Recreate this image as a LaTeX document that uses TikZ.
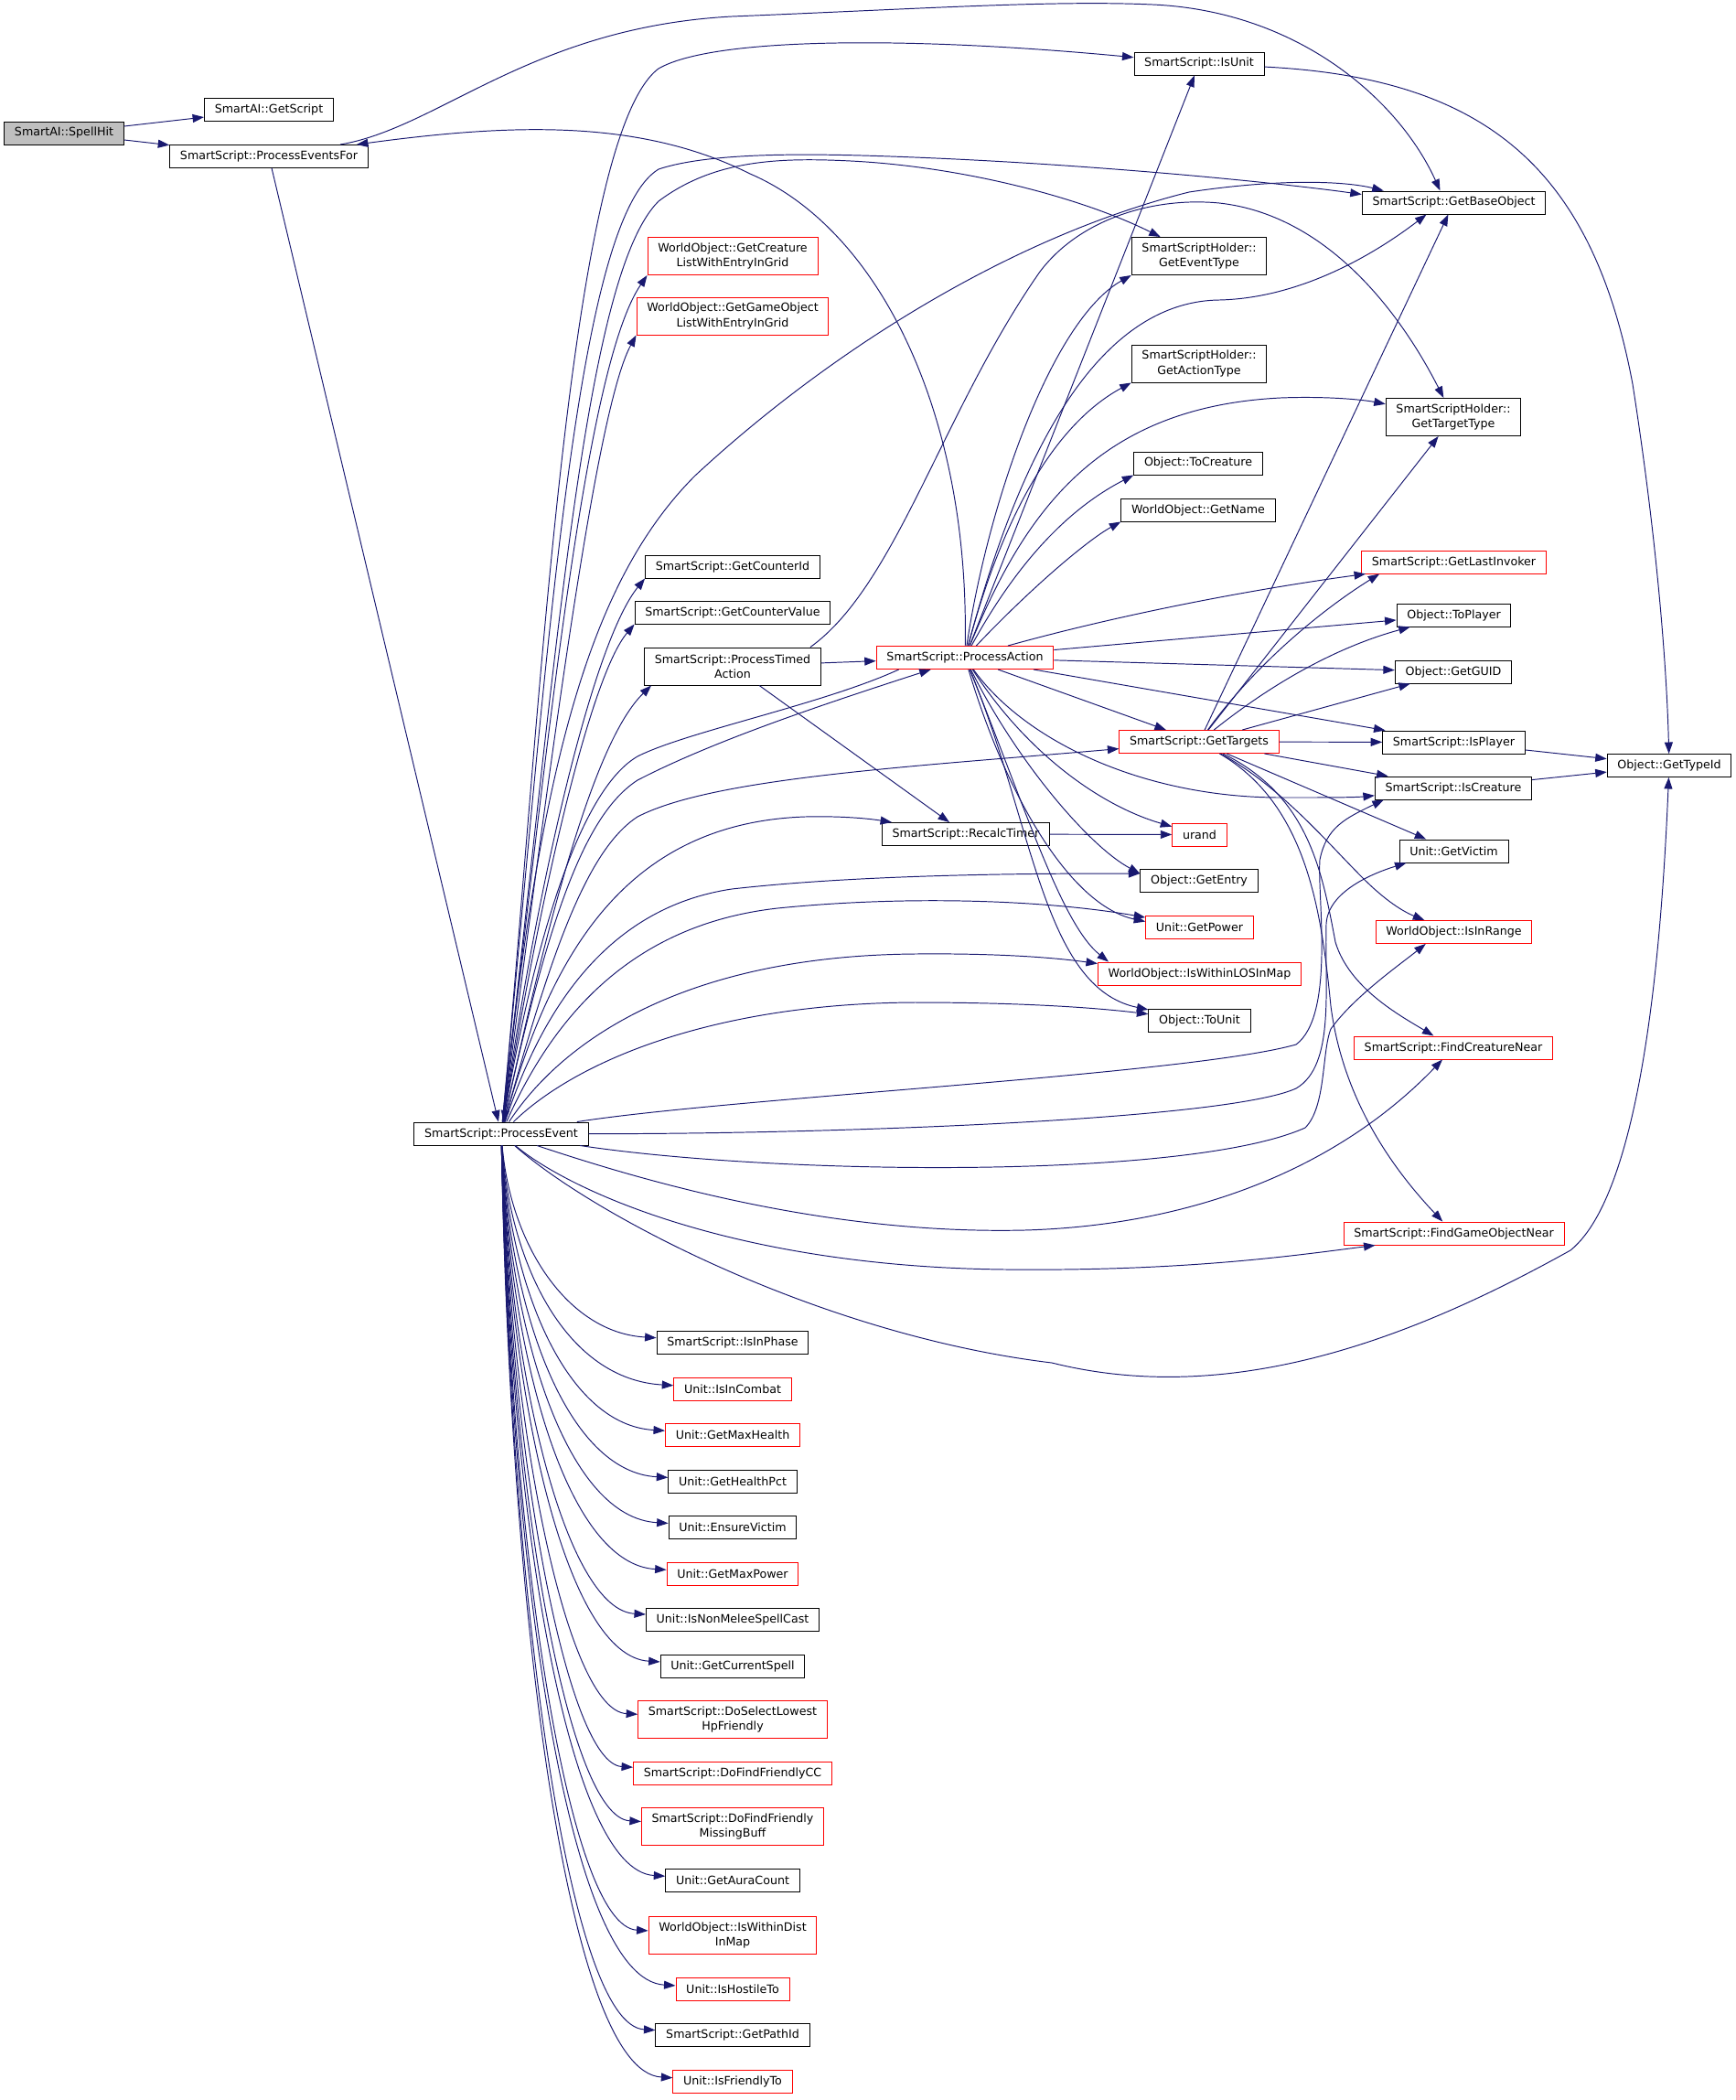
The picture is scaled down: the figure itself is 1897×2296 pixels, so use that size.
\documentclass[tikz,border=0pt]{standalone}
\usepackage{fontspec}
\setmainfont{DejaVu Sans}
\usepackage{tikz}
\usetikzlibrary{arrows.meta,calc}
\definecolor{myedge}{RGB}{25,25,112}
\definecolor{myred}{RGB}{255,0,0}
\definecolor{mygray}{RGB}{191,191,191}

\begin{document}
\begin{tikzpicture}[
  x=0.02cm, y=-0.02cm,
  box/.style={
    rectangle, draw=black, fill=white, line width=0.55pt,
    inner xsep=0.225cm, inner ysep=0.12cm, minimum height=0.5cm,
    font=\fontsize{7.2pt}{9.3pt}\selectfont, align=center},
  redbox/.style={box, draw=myred},
  rootbox/.style={box, fill=mygray},
  tall/.style={minimum height=0.82cm},
  arr/.style={-{Triangle[length=0.25cm,width=0.18cm]}, line width=0.55pt, color=myedge}
]
  \useasboundingbox (0,0) rectangle (1897,2296);

  \node[rootbox](spellhit) at (70,145.5) {SmartAI::SpellHit};
  \node[box](getscript) at (294,120) {SmartAI::GetScript};
  \node[box](eventsfor) at (294,171) {SmartScript::ProcessEventsFor};
  \node[box](processevent) at (548,1239.5) {SmartScript::ProcessEvent};
  \node[box](isunit) at (1311,69.5) {SmartScript::IsUnit};
  \node[box](baseobj) at (1589.5,221.5) {SmartScript::GetBaseObject};
  \node[redbox, tall](crlist) at (801,280) {WorldObject::GetCreature\\ListWithEntryInGrid};
  \node[redbox, tall](golist) at (801,345.5) {WorldObject::GetGameObject\\ListWithEntryInGrid};
  \node[box, tall](eventtype) at (1311,280) {SmartScriptHolder::\\GetEventType};
  \node[box, tall](actiontype) at (1311,397.5) {SmartScriptHolder::\\GetActionType};
  \node[box, tall](targettype) at (1589,456) {SmartScriptHolder::\\GetTargetType};
  \node[box](tocreature) at (1310,506.5) {Object::ToCreature};
  \node[box](getname) at (1310,557.5) {WorldObject::GetName};
  \node[box](counterid) at (801,619.5) {SmartScript::GetCounterId};
  \node[redbox](lastinvoker) at (1589.5,614.5) {SmartScript::GetLastInvoker};
  \node[box](countervalue) at (801,669.5) {SmartScript::GetCounterValue};
  \node[box](toplayer) at (1589.5,672.5) {Object::ToPlayer};
  \node[box, tall](timedaction) at (801,728.5) {SmartScript::ProcessTimed\\Action};
  \node[redbox](processaction) at (1055,719) {SmartScript::ProcessAction};
  \node[box](getguid) at (1589,734.5) {Object::GetGUID};
  \node[redbox](gettargets) at (1311,811) {SmartScript::GetTargets};
  \node[box](isplayer) at (1589.5,811.5) {SmartScript::IsPlayer};
  \node[box](gettypeid) at (1825,837) {Object::GetTypeId};
  \node[box](iscreature) at (1589,861.5) {SmartScript::IsCreature};
  \node[box](recalctimer) at (1056,912) {SmartScript::RecalcTimer};
  \node[redbox](urand) at (1311.5,912.5) {urand};
  \node[box](getvictim) at (1589.5,930.5) {Unit::GetVictim};
  \node[box](getentry) at (1311,963) {Object::GetEntry};
  \node[redbox](getpower) at (1311.5,1013.5) {Unit::GetPower};
  \node[redbox](isinrange) at (1589.5,1019) {WorldObject::IsInRange};
  \node[redbox](losinmap) at (1311.5,1064.5) {WorldObject::IsWithinLOSInMap};
  \node[box](tounit) at (1311.5,1115.5) {Object::ToUnit};
  \node[redbox](findcreature) at (1589,1145.5) {SmartScript::FindCreatureNear};
  \node[redbox](findgo) at (1589.5,1348.5) {SmartScript::FindGameObjectNear};
  \node[box](inphase) at (801,1467.5) {SmartScript::IsInPhase};
  \node[redbox](incombat) at (801,1518.5) {Unit::IsInCombat};
  \node[redbox](maxhealth) at (801,1568.5) {Unit::GetMaxHealth};
  \node[box](healthpct) at (801,1619.5) {Unit::GetHealthPct};
  \node[box](ensurevictim) at (801,1669.5) {Unit::EnsureVictim};
  \node[redbox](maxpower) at (801,1720.5) {Unit::GetMaxPower};
  \node[box](nonmelee) at (801,1770.5) {Unit::IsNonMeleeSpellCast};
  \node[box](curspell) at (801,1821.5) {Unit::GetCurrentSpell};
  \node[redbox, tall](lowesthp) at (801,1880) {SmartScript::DoSelectLowest\\HpFriendly};
  \node[redbox](friendlycc) at (801,1938.5) {SmartScript::DoFindFriendlyCC};
  \node[redbox, tall](missingbuff) at (801,1997) {SmartScript::DoFindFriendly\\MissingBuff};
  \node[box](auracount) at (801,2055.5) {Unit::GetAuraCount};
  \node[redbox, tall](withindist) at (801,2116) {WorldObject::IsWithinDist\\InMap};
  \node[redbox](hostile) at (801,2174.5) {Unit::IsHostileTo};
  \node[box](pathid) at (801,2224.5) {SmartScript::GetPathId};
  \node[redbox](friendlyto) at (801,2275.5) {Unit::IsFriendlyTo};

  \draw[arr](spellhit)--(getscript);
  \draw[arr](spellhit)--(eventsfor);
  \draw[arr](eventsfor)--(processevent);
  \draw[arr](eventsfor) .. controls (480,140) and (580,30) .. (800,18)
    .. controls (1000,10) and (1150,0) .. (1260,5)
    .. controls (1420,12) and (1530,110) .. ($(baseobj.north)+(-15,0)$);
  \draw[arr](processaction) .. controls (1060,450) and (960,250) .. (820,190)
    .. controls (700,130) and (560,135) .. (eventsfor);

  \draw[arr](processevent) .. controls (590,800) and (620,150) .. (720,75)
    .. controls (780,40) and (1000,40) .. (isunit);
  \draw[arr](processevent) .. controls (600,700) and (630,240) .. (720,185)
    .. controls (780,165) and (900,168) .. (1000,172)
    .. controls (1200,180) and (1400,200) .. ($(baseobj.north west)+(0,4)$);
  \draw[arr](processevent) .. controls (590,850) and (640,640) .. (760,520)
    .. controls (900,390) and (1100,260) .. (1300,210)
    .. controls (1400,195) and (1470,198) .. ($(baseobj.north west)+(24,0)$);
  \draw[arr](processevent) .. controls (610,700) and (640,300) .. (720,220)
    .. controls (780,175) and (850,172) .. (930,176)
    .. controls (1050,182) and (1180,215) .. (eventtype);
  \draw[arr](processevent) .. controls (600,800) and (640,400) .. (crlist.south west);
  \draw[arr](processevent) .. controls (600,850) and (650,450) .. (golist.south west);
  \draw[arr](processevent) .. controls (590,950) and (650,700) .. (counterid.south west);
  \draw[arr](processevent) .. controls (590,980) and (645,740) .. (countervalue.south west);
  \draw[arr](processevent) .. controls (600,1000) and (650,810) .. ($(timedaction.south west)+(8,0)$);
  \draw[arr](processevent) .. controls (600,1000) and (640,890) .. (697,853)
    .. controls (780,810) and (900,770) .. ($(processaction.south west)+(60,0)$);
  \draw[arr]($(processaction.south west)+(25,0)$) .. controls (900,770) and (750,800) .. (697,827)
    .. controls (640,860) and (590,1000) .. (processevent);
  \draw[arr](processevent) .. controls (600,1050) and (640,930) .. (697,893)
    .. controls (780,850) and (1000,838) .. (gettargets);
  \draw[arr](processevent) .. controls (600,1050) and (680,900) .. (880,893)
    .. controls (920,892) and (950,895) .. (recalctimer);
  \draw[arr](processevent) .. controls (600,1080) and (680,990) .. (800,972)
    .. controls (950,955) and (1150,955) .. ($(getentry.north west)+(0,5)$);
  \draw[arr](processevent) .. controls (610,1100) and (700,1010) .. (850,993)
    .. controls (1000,978) and (1150,985) .. (getpower);
  \draw[arr](processevent) .. controls (620,1130) and (760,1045) .. (1000,1043)
    .. controls (1100,1042) and (1160,1048) .. ($(losinmap.north west)+(0,2)$);
  \draw[arr](processevent) .. controls (630,1160) and (780,1097) .. (1000,1096)
    .. controls (1120,1096) and (1200,1102) .. (tounit);
  \draw[arr](processevent) .. controls (800,1200) and (1300,1175) .. (1417,1142)
    .. controls (1460,1110) and (1440,980) .. (1443,940)
    .. controls (1450,905) and (1470,895) .. ($(iscreature.south west)+(10,0)$);
  \draw[arr](processevent) .. controls (900,1240) and (1340,1225) .. (1417,1190)
    .. controls (1460,1165) and (1448,1080) .. (1450,1010)
    .. controls (1452,975) and (1500,955) .. ($(getvictim.south west)+(8,0)$);
  \draw[arr](processevent) .. controls (850,1285) and (1300,1290) .. (1427,1233)
    .. controls (1450,1210) and (1445,1150) .. (1455,1125)
    .. controls (1480,1090) and (1530,1055) .. ($(isinrange.south west)+(55,0)$);
  \draw[arr](processevent) .. controls (700,1290) and (900,1350) .. (1120,1345)
    .. controls (1300,1340) and (1460,1280) .. ($(findcreature.south)+(-12,0)$);
  \draw[arr](processevent) .. controls (620,1300) and (800,1385) .. (1100,1388)
    .. controls (1300,1390) and (1420,1372) .. ($(findgo.south west)+(35,0)$);
  \draw[arr](processevent) .. controls (650,1330) and (900,1460) .. (1150,1490)
    .. controls (1350,1540) and (1550,1460) .. (1717,1367)
    .. controls (1800,1300) and (1818,1000) .. (gettypeid);

  \draw[arr](processevent) .. controls (558,1360) and (620,1457) .. (inphase);
  \draw[arr](processevent) .. controls (558,1385) and (620,1508) .. (incombat);
  \draw[arr](processevent) .. controls (558,1410) and (620,1558) .. (maxhealth);
  \draw[arr](processevent) .. controls (558,1436) and (620,1609) .. (healthpct);
  \draw[arr](processevent) .. controls (558,1461) and (620,1659) .. (ensurevictim);
  \draw[arr](processevent) .. controls (558,1486) and (620,1710) .. (maxpower);
  \draw[arr](processevent) .. controls (558,1511) and (620,1760) .. (nonmelee);
  \draw[arr](processevent) .. controls (558,1537) and (620,1811) .. (curspell);
  \draw[arr](processevent) .. controls (558,1566) and (620,1870) .. (lowesthp);
  \draw[arr](processevent) .. controls (558,1595) and (620,1928) .. (friendlycc);
  \draw[arr](processevent) .. controls (558,1624) and (620,1987) .. (missingbuff);
  \draw[arr](processevent) .. controls (558,1654) and (620,2045) .. (auracount);
  \draw[arr](processevent) .. controls (558,1684) and (620,2106) .. (withindist);
  \draw[arr](processevent) .. controls (558,1713) and (620,2164) .. (hostile);
  \draw[arr](processevent) .. controls (558,1738) and (620,2214) .. (pathid);
  \draw[arr](processevent) .. controls (558,1764) and (620,2265) .. (friendlyto);

  \draw[arr](timedaction)--(processaction);
  \draw[arr](timedaction)--(recalctimer);
  \draw[arr]($(timedaction.north east)+(-12,0)$) .. controls (980,640) and (1030,450) .. (1137,297)
    .. controls (1180,240) and (1260,215) .. (1333,222)
    .. controls (1450,235) and (1530,340) .. (targettype);

  \draw[arr](processaction)--(isunit);
  \draw[arr](processaction) .. controls (1080,550) and (1150,350) .. (eventtype.south west);
  \draw[arr](processaction) .. controls (1100,550) and (1180,330) .. (1333,328)
    .. controls (1420,326) and (1500,280) .. ($(baseobj.south)+(-30,0)$);
  \draw[arr](processaction) .. controls (1100,550) and (1160,460) .. (actiontype.south west);
  \draw[arr](processaction) .. controls (1120,560) and (1200,445) .. (1400,435)
    .. controls (1450,433) and (1490,437) .. (targettype);
  \draw[arr](processaction) .. controls (1120,600) and (1180,550) .. (tocreature.south west);
  \draw[arr](processaction) .. controls (1130,640) and (1190,590) .. (getname.south west);
  \draw[arr](processaction) .. controls (1250,665) and (1400,640) .. (lastinvoker);
  \draw[arr](processaction)--(toplayer);
  \draw[arr](processaction)--(getguid);
  \draw[arr](processaction)--(isplayer);
  \draw[arr](processaction)--(gettargets);
  \draw[arr](processaction) .. controls (1120,810) and (1250,872) .. (1400,872)
    .. controls (1450,872) and (1480,872) .. (iscreature);
  \draw[arr](processaction) .. controls (1120,820) and (1200,880) .. (urand);
  \draw[arr](recalctimer)--(urand);
  \draw[arr](processaction) .. controls (1110,830) and (1190,925) .. ($(getentry.north west)+(0,5)$);
  \draw[arr](processaction) .. controls (1100,870) and (1170,990) .. ($(getpower.north west)+(0,7)$);
  \draw[arr](processaction) .. controls (1120,880) and (1160,1010) .. ($(losinmap.north west)+(12,0)$);
  \draw[arr](processaction) .. controls (1130,900) and (1140,1080) .. (tounit);

  \draw[arr](gettargets)--(baseobj);
  \draw[arr](gettargets)--(targettype);
  \draw[arr](gettargets) .. controls (1370,730) and (1440,670) .. ($(lastinvoker.south west)+(20,0)$);
  \draw[arr](gettargets) .. controls (1400,740) and (1470,705) .. (toplayer);
  \draw[arr](gettargets)--(getguid);
  \draw[arr](gettargets)--(isplayer);
  \draw[arr](gettargets)--(iscreature);
  \draw[arr](gettargets)--(getvictim);
  \draw[arr](gettargets) .. controls (1400,860) and (1450,920) .. (1490,960)
    .. controls (1510,980) and (1530,995) .. (isinrange);
  \draw[arr](gettargets) .. controls (1430,870) and (1445,950) .. (1460,1030)
    .. controls (1475,1080) and (1530,1110) .. (findcreature);
  \draw[arr](gettargets) .. controls (1430,880) and (1445,1000) .. (1455,1100)
    .. controls (1468,1200) and (1520,1275) .. (findgo);

  \draw[arr](isunit) .. controls (1620,85) and (1740,180) .. (1785,420)
    .. controls (1810,580) and (1822,720) .. (gettypeid);
  \draw[arr](isplayer)--(gettypeid);
  \draw[arr](iscreature)--(gettypeid);
\end{tikzpicture}
\end{document}
